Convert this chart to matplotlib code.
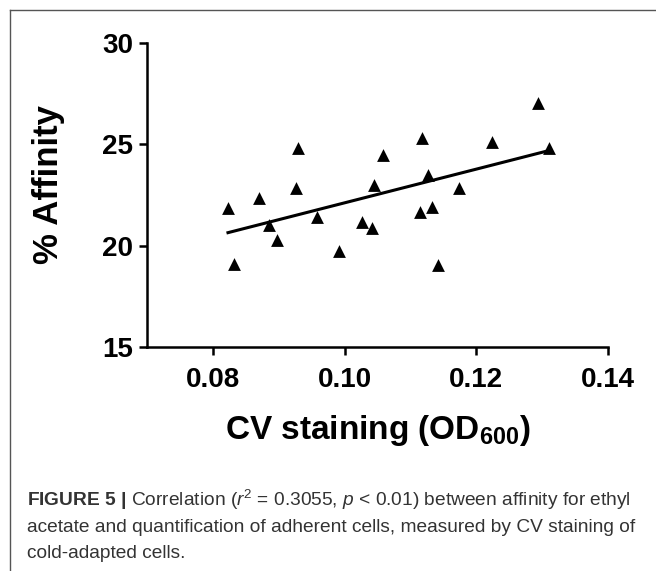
import matplotlib.pyplot as plt
import numpy as np
from matplotlib.lines import Line2D

plt.rcParams['font.family'] = ['Liberation Sans', 'DejaVu Sans']
plt.rcParams['mathtext.fontset'] = 'custom'
plt.rcParams['mathtext.rm'] = 'Liberation Sans'
plt.rcParams['mathtext.it'] = 'Liberation Sans:italic'
plt.rcParams['mathtext.bf'] = 'Liberation Sans:bold'

# CV staining (OD600) vs % affinity
cv_od600 = [0.0823, 0.0832, 0.0870, 0.0885, 0.0897, 0.0926, 0.0929, 0.0958,
            0.0992, 0.1026, 0.1042, 0.1045, 0.1058, 0.1115, 0.1117, 0.1127,
            0.1133, 0.1142, 0.1173, 0.1224, 0.1294, 0.1311]
affinity = [21.86, 19.09, 22.35, 21.02, 20.28, 22.84, 24.82, 21.41,
            19.74, 21.17, 20.87, 22.99, 24.47, 21.66, 25.31, 23.49,
            21.91, 19.05, 22.84, 25.11, 27.04, 24.82]

x_ticks = [0.08, 0.10, 0.12, 0.14]
y_ticks = [15, 20, 25, 30]

fig = plt.figure(figsize=(6.56, 5.71), dpi=100)
ax = fig.add_axes([0.224, 0.392, 0.703, 0.533])

x = np.array(cv_od600)
y = np.array(affinity)
ax.scatter(x, y, marker='^', s=85, color='black', zorder=3, linewidths=0)

slope, intercept = np.polyfit(x, y, 1)
xf = np.array([x.min(), x.max()])
ax.plot(xf, slope * xf + intercept, color='black', linewidth=2.2)

ax.set_xlim(0.07, 0.14)
ax.set_ylim(15, 30)
ax.set_xticks(x_ticks)
ax.set_xticklabels([f'{t:.2f}' for t in x_ticks])
ax.set_yticks(y_ticks)

for side in ['top', 'right']:
    ax.spines[side].set_visible(False)
for side in ['left', 'bottom']:
    ax.spines[side].set_linewidth(1.8)
ax.tick_params(width=1.8, length=6, labelsize=20, pad=4)
ax.tick_params(axis='x', pad=8)
for lab in ax.get_xticklabels() + ax.get_yticklabels():
    lab.set_fontweight('bold')

ax.set_xlabel(r'CV staining (OD$_{\mathbf{600}}$)', fontsize=24, fontweight='bold', labelpad=15)
ax.set_ylabel('% Affinity', fontsize=25, fontweight='bold')
ax.yaxis.set_label_coords(-0.178, 0.535)

# frame of the original figure panel (only left and top edges visible)
fig.add_artist(Line2D([10 / 656, 10 / 656], [0, 1 - 10 / 571], color='#555555', linewidth=1, transform=fig.transFigure))
fig.add_artist(Line2D([10 / 656, 1], [1 - 10 / 571, 1 - 10 / 571], color='#555555', linewidth=1, transform=fig.transFigure))

caption = [
    r'$\mathbf{FIGURE\ 5\ |}$ Correlation ($r^2$ = 0.3055, $p$ < 0.01) between affinity for ethyl',
    'acetate and quantification of adherent cells, measured by CV staining of',
    'cold-adapted cells.',
]
for i, line in enumerate(caption):
    fig.text(27 / 656, 1 - (500 + i * 27) / 571, line, fontsize=13.8, color='#333333', va='center', ha='left')

plt.savefig('out.png', dpi=100)
